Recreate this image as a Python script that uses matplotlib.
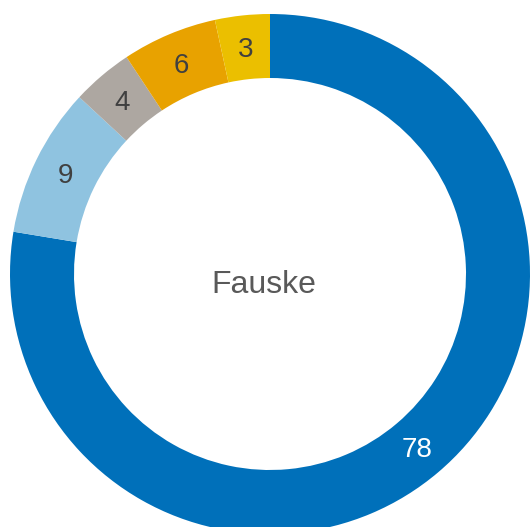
import matplotlib
matplotlib.use("Agg")
import numpy as np
import matplotlib.pyplot as plt

categories = ["A", "B", "C", "D", "E"]
values = [77.6, 9.3, 3.8, 5.9, 3.4]
labels = ["78", "9", "4", "6", "3"]
colors = ["#0070BA", "#8FC3E0", "#ADA7A1", "#E8A200", "#EBBF00"]
label_colors = ["white", "#404040", "#404040", "#404040", "#404040"]
center_title = "Fauske"

W, H = 530, 527
fig = plt.figure(figsize=(W / 100, H / 100), dpi=100)
ax = fig.add_axes([0, 0, 1, 1])
R = 260.0
cx, cy = 270.0, 274.0
ring = 64 / R
fam = ["Liberation Sans", "DejaVu Sans"]

wedges, _ = ax.pie(
    values, colors=colors, startangle=90, counterclock=False, radius=1.0,
    wedgeprops=dict(width=ring, edgecolor="none"))

rmid = 1.0 - ring / 2
for w, lab, c in zip(wedges, labels, label_colors):
    ang = np.deg2rad((w.theta1 + w.theta2) / 2)
    ax.text(rmid * np.cos(ang), rmid * np.sin(ang) - 2.5 / R, lab, ha="center",
            va="center", fontsize=20, color=c, family=fam)

ax.text(-6 / R, -11 / R, center_title, ha="center", va="center", fontsize=23,
        color="#595959", family=fam)

ax.set_xlim(-cx / R, (W - cx) / R)
ax.set_ylim(-(H - cy) / R, cy / R)
ax.set_aspect("auto")
ax.axis("off")
fig.savefig("out.png", dpi=100)
